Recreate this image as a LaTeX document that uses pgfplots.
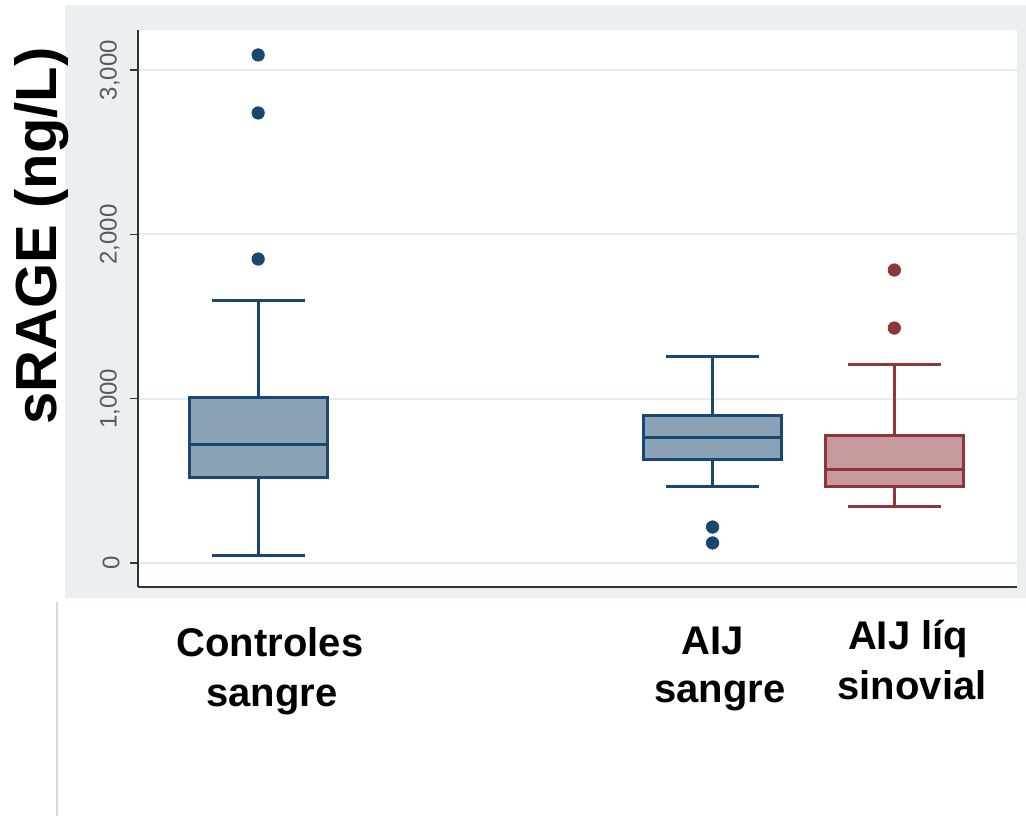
\documentclass[border=0pt]{standalone}
\usepackage{fontspec}
\setmainfont{Liberation Sans}
\usepackage{pgfplots}
\pgfplotsset{compat=1.18}
\definecolor{navyc}{RGB}{26,71,111}
\definecolor{maroonc}{RGB}{144,53,59}
\definecolor{bgc}{RGB}{234,240,242}
\definecolor{gridc}{RGB}{228,235,238}
\begin{document}
\begin{tikzpicture}
\fill[white] (0,0) rectangle (513pt,408pt);
\fill[bgc] (32.5pt,109pt) rectangle (513pt,405.5pt);
\draw[black!15, line width=1pt] (28.5pt,0) -- (28.5pt,107pt);
\begin{axis}[
  at={(69pt,114.5pt)}, anchor=south west,
  scale only axis, width=439.5pt, height=278.5pt,
  xmin=0.339, xmax=5.175, ymin=-146, ymax=3244,
  axis x line=bottom, axis y line=left,
  axis line style={-, draw=black!80, line width=0.7pt},
  xtick=\empty,
  ytick={0,1000,2000,3000},
  yticklabels={0,{1,000},{2,000},{3,000}},
  tick align=outside, major tick length=4pt,
  tick style={draw=black!80, line width=0.7pt},
  ymajorgrids, grid style={draw=gridc, line width=1pt},
  yticklabel shift=5pt,
  yticklabel style={rotate=90, anchor=south, inner sep=0pt,
    font=\fontsize{12pt}{14pt}\selectfont, text=black!65},
  axis background/.style={fill=white},
  bx/.style={line width=1.5pt, line join=miter},
  out/.style={only marks, mark=*, mark size=3.1pt, mark options={line width=0.4pt}},
]
% Controles sangre (x=1)
\addplot[bx, draw=navyc, fill=navyc!50] coordinates {(0.62,523) (1.38,523) (1.38,1010) (0.62,1010)} --cycle;
\addplot[bx, navyc] coordinates {(0.62,724) (1.38,724)};
\addplot[bx, navyc] coordinates {(1,1010) (1,1595)};
\addplot[bx, navyc] coordinates {(0.745,1595) (1.255,1595)};
\addplot[bx, navyc] coordinates {(1,523) (1,43)};
\addplot[bx, navyc] coordinates {(0.745,43) (1.255,43)};
\addplot[out, navyc, mark options={fill=navyc}] coordinates {(1,1850) (1,2739) (1,3092)};
% AIJ sangre (x=3.5)
\addplot[bx, draw=navyc, fill=navyc!50] coordinates {(3.12,627) (3.88,627) (3.88,895) (3.12,895)} --cycle;
\addplot[bx, navyc] coordinates {(3.12,761) (3.88,761)};
\addplot[bx, navyc] coordinates {(3.5,895) (3.5,1254)};
\addplot[bx, navyc] coordinates {(3.245,1254) (3.755,1254)};
\addplot[bx, navyc] coordinates {(3.5,627) (3.5,463)};
\addplot[bx, navyc] coordinates {(3.245,463) (3.755,463)};
\addplot[out, navyc, mark options={fill=navyc}] coordinates {(3.5,122) (3.5,219)};
% AIJ liq sinovial (x=4.5)
\addplot[bx, draw=maroonc, fill=maroonc!50] coordinates {(4.12,463) (4.88,463) (4.88,779) (4.12,779)} --cycle;
\addplot[bx, maroonc] coordinates {(4.12,572) (4.88,572)};
\addplot[bx, maroonc] coordinates {(4.5,779) (4.5,1211)};
\addplot[bx, maroonc] coordinates {(4.245,1211) (4.755,1211)};
\addplot[bx, maroonc] coordinates {(4.5,463) (4.5,341)};
\addplot[bx, maroonc] coordinates {(4.245,341) (4.755,341)};
\addplot[out, maroonc, mark options={fill=maroonc}] coordinates {(4.5,1430) (4.5,1783)};
\end{axis}
\node[rotate=90, font=\bfseries\fontsize{29pt}{34pt}\selectfont] at (21pt,290pt) {sRAGE (ng/L)};
\begin{scope}[every node/.style={anchor=base, inner sep=0pt, font=\bfseries\fontsize{20pt}{24pt}\selectfont}]
\node at (135pt,79.5pt) {Controles};
\node at (136pt,54.5pt) {sangre};
\node at (356.5pt,80.5pt) {AIJ};
\node at (360pt,56.5pt) {sangre};
\node at (454pt,83pt) {AIJ líq};
\node at (456pt,58pt) {sinovial};
\end{scope}
\end{tikzpicture}
\end{document}
